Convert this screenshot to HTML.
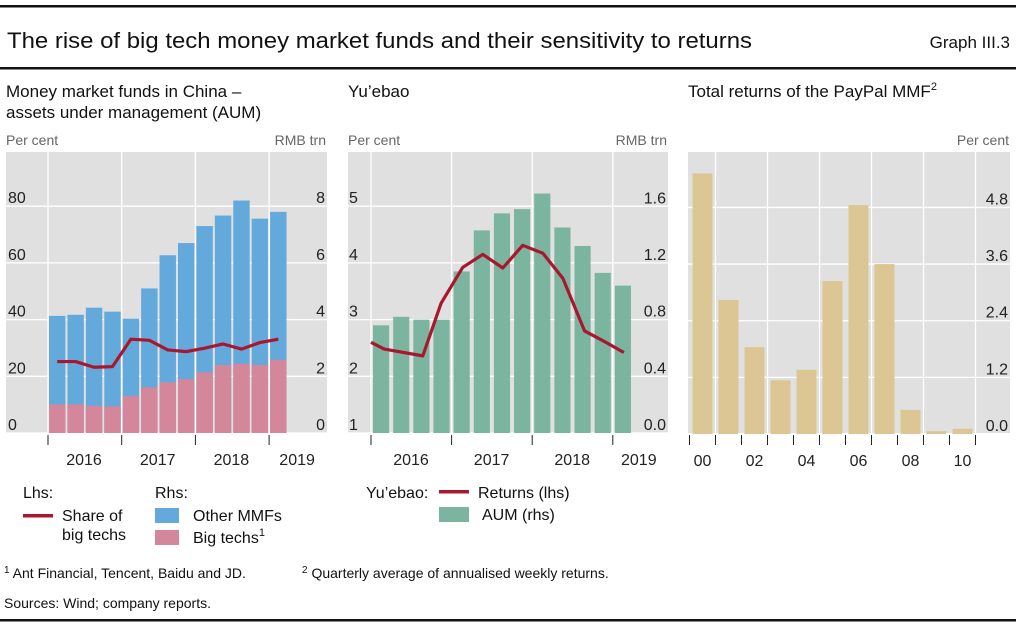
<!DOCTYPE html>
<html><head><meta charset="utf-8"><style>
html,body{margin:0;padding:0;background:#fff;}
svg{display:block;font-family:"Liberation Sans",sans-serif;}
</style></head><body>
<svg id="chart" width="1016" height="628" viewBox="0 0 1016 628" xmlns="http://www.w3.org/2000/svg">
<rect x="0" y="5" width="1016" height="2.5" fill="#111"/>
<text x="7" y="48" font-size="22" fill="#111" textLength="745" lengthAdjust="spacingAndGlyphs">The rise of big tech money market funds and their sensitivity to returns</text>
<text x="1010" y="48" font-size="17" fill="#111" text-anchor="end">Graph III.3</text>
<rect x="0" y="67" width="1016" height="2.5" fill="#111"/>
<text x="6" y="97" font-size="17" fill="#111">Money market funds in China –</text>
<text x="6" y="118" font-size="17" fill="#111">assets under management (AUM)</text>
<text x="348" y="97" font-size="17" fill="#111">Yu’ebao</text>
<text x="688" y="97" font-size="17" fill="#111">Total returns of the PayPal MMF<tspan font-size="11" dy="-7">2</tspan></text>
<text x="6" y="145" font-size="14" fill="#666">Per cent</text>
<text x="326" y="145" font-size="14" fill="#666" text-anchor="end">RMB trn</text>
<text x="348" y="145" font-size="14" fill="#666">Per cent</text>
<text x="667" y="145" font-size="14" fill="#666" text-anchor="end">RMB trn</text>
<text x="1009" y="145" font-size="14" fill="#666" text-anchor="end">Per cent</text>
<g id="p1"></g><g id="p2"></g><g id="p3"></g>
<g>
<text x="23" y="498" font-size="16" fill="#111">Lhs:</text>
<text x="155" y="498" font-size="16" fill="#111">Rhs:</text>
<rect x="23" y="514" width="30" height="3.5" fill="#a8172d"/>
<text x="62" y="521" font-size="16" fill="#111">Share of</text>
<text x="62" y="540" font-size="16" fill="#111">big techs</text>
<rect x="155" y="508" width="24" height="15" fill="#64a9dc"/>
<text x="193" y="521" font-size="16" fill="#111">Other MMFs</text>
<rect x="155" y="530" width="24" height="15" fill="#d4879a"/>
<text x="193" y="543" font-size="16" fill="#111">Big techs<tspan font-size="11" dy="-7">1</tspan></text>
</g>
<g>
<text x="366" y="498" font-size="16" fill="#111">Yu’ebao:</text>
<rect x="439" y="490" width="30" height="3.5" fill="#a8172d"/>
<text x="478" y="498" font-size="16" fill="#111">Returns (lhs)</text>
<rect x="439" y="507" width="30" height="15" fill="#7bb5a0"/>
<text x="482" y="520" font-size="16" fill="#111">AUM (rhs)</text>
</g>
<text x="4" y="578" font-size="14" fill="#111"><tspan font-size="10" dy="-5">1</tspan><tspan dy="5"> Ant Financial, Tencent, Baidu and JD.</tspan></text>
<text x="302" y="578" font-size="14" fill="#111"><tspan font-size="10" dy="-5">2</tspan><tspan dy="5"> Quarterly average of annualised weekly returns.</tspan></text>
<text x="4" y="608" font-size="14" fill="#111">Sources: Wind; company reports.</text>
<rect x="0" y="619" width="1016" height="2.5" fill="#111"/>
</svg>
<script>
const p1Years = ["2016","2017","2018","2019"];
const p1Other = [4.13,4.17,4.42,4.28,4.03,5.10,6.27,6.70,7.30,7.67,8.20,7.56,7.80];
const p1BigTech = [1.01,1.01,0.96,0.94,1.30,1.61,1.79,1.90,2.14,2.40,2.44,2.40,2.58];
const p1Share = [25.2,25.2,23.2,23.4,33.1,32.7,29.3,28.7,29.9,31.4,29.6,31.9,33.1];
const p1LhsTicks = [0,20,40,60,80];
const p1RhsTicks = [0,2,4,6,8];
const p2Years = ["2016","2017","2018","2019"];
const p2Aum = [0.76,0.82,0.80,0.80,1.14,1.43,1.55,1.58,1.69,1.45,1.32,1.13,1.04];
const p2RetT = [0,0.66,2.57,3.48,4.55,5.55,6.54,7.53,8.53,9.52,10.6,11.6,12.55];
const p2Ret = [2.60,2.48,2.36,3.29,3.92,4.15,3.91,4.31,4.17,3.73,2.80,2.61,2.42];
const p2LhsTicks = [1,2,3,4,5];
const p2RhsTicks = ["0.0","0.4","0.8","1.2","1.6"];
const p3Years = ["00","01","02","03","04","05","06","07","08","09","10"];
const p3Ret = [5.52,2.84,1.84,1.14,1.36,3.24,4.85,3.60,0.51,0.06,0.11];
const p3Ticks = ["0.0","1.2","2.4","3.6","4.8"];

const NS="http://www.w3.org/2000/svg";
function mk(parent,tag,attrs,txt){const e=document.createElementNS(NS,tag);for(const k in attrs)e.setAttribute(k,attrs[k]);if(txt!==undefined)e.textContent=txt;parent.appendChild(e);return e;}
const GRID="#e0e0e0", TXT="#222";
const TOP=152, BOT=433;

(function(){
 const g=document.getElementById('p1');
 const L=6,R=327,x0=48,yw=73.7,qw=yw/4;
 const yl=v=>BOT-v*2.835, yr=v=>BOT-v*28.35, xq=q=>x0+q*qw;
 const bg=mk(g,'rect',{x:L,y:TOP,width:R-L,height:BOT-TOP,fill:GRID});
 
 
 p1LhsTicks.forEach(t=>{const l=mk(g,'line',{x1:L,x2:R,y1:yl(t),y2:yl(t),stroke:'#fff','stroke-width':1.3});
  
  });
 p1Years.forEach((yy,i)=>{const x=xq(i*4);
  const l=mk(g,'line',{x1:x,x2:x,y1:TOP,y2:BOT,stroke:'#fff','stroke-width':1.3});
  
  
  const tk=mk(g,'line',{x1:x,x2:x,y1:BOT+2,y2:BOT+12,stroke:'#222','stroke-width':1});
  
  
  const cx=i<p1Years.length-1?x+36:x+28;
  const t=mk(g,'text',{x:cx,y:465,'font-size':16,fill:TXT,'text-anchor':'middle'},yy);
  
  });
 p1Other.forEach((v,i)=>{const x=xq(i)+1;
  const b=mk(g,'rect',{x:x,y:yr(v),width:qw-2,height:BOT-yr(v),fill:'#64a9dc'});
  
  
  const p=mk(g,'rect',{x:x,y:yr(p1BigTech[i]),width:qw-2,height:BOT-yr(p1BigTech[i]),fill:'#d4879a'});
  
  });
 const pts=p1Share.map((v,i)=>(xq(i)+qw/2)+','+yl(v)).join(' ');
 const ln=mk(g,'polyline',{points:pts,fill:'none',stroke:'#a8172d','stroke-width':3.2,'stroke-linejoin':'round'});
 
 
 p1LhsTicks.forEach(t=>{const e=mk(g,'text',{x:8,y:yl(t)-3,'font-size':16,fill:TXT},t);
  
  });
 p1RhsTicks.forEach(t=>{const e=mk(g,'text',{x:R-2,y:yr(t)-3,'font-size':16,fill:TXT,'text-anchor':'end'},t);
  
  });
})();

(function(){
 const g=document.getElementById('p2');
 const L=348,R=668,x0=371,yw=80.6,qw=yw/4;
 const yl=v=>BOT-(v-1)*56.7, yr=v=>BOT-v*141.7, xq=q=>x0+q*qw;
 const bg=mk(g,'rect',{x:L,y:TOP,width:R-L,height:BOT-TOP,fill:GRID});
 
 
 p2LhsTicks.forEach(t=>{const l=mk(g,'line',{x1:L,x2:R,y1:yl(t),y2:yl(t),stroke:'#fff','stroke-width':1.3});
  
  });
 p2Years.forEach((yy,i)=>{const x=xq(i*4);
  const l=mk(g,'line',{x1:x,x2:x,y1:TOP,y2:BOT,stroke:'#fff','stroke-width':1.3});
  
  
  const tk=mk(g,'line',{x1:x,x2:x,y1:BOT+2,y2:BOT+12,stroke:'#222','stroke-width':1});
  
  
  const cx=i<p2Years.length-1?x+40:x+26;
  const t=mk(g,'text',{x:cx,y:465,'font-size':16,fill:TXT,'text-anchor':'middle'},yy);
  
  });
 p2Aum.forEach((v,i)=>{const b=mk(g,'rect',{x:xq(i)+2,y:yr(v),width:qw-4,height:BOT-yr(v),fill:'#7bb5a0'});
  
  });
 const pts=p2Ret.map((v,i)=>xq(p2RetT[i])+','+yl(v)).join(' ');
 const ln=mk(g,'polyline',{points:pts,fill:'none',stroke:'#a8172d','stroke-width':3.2,'stroke-linejoin':'round'});
 
 
 p2LhsTicks.forEach(t=>{const e=mk(g,'text',{x:349,y:yl(t)-3,'font-size':16,fill:TXT},t);
  
  });
 p2RhsTicks.forEach(t=>{const e=mk(g,'text',{x:R-2,y:yr(parseFloat(t))-3,'font-size':16,fill:TXT,'text-anchor':'end'},t);
  
  });
})();

(function(){
 const g=document.getElementById('p3');
 const L=688,R=1010,x0=689.5,bw=26,b3=434;
 const ys=v=>b3-v*47.2, xb=i=>x0+i*bw;
 const bg=mk(g,'rect',{x:L,y:TOP,width:R-L,height:BOT-TOP,fill:GRID});
 
 
 p3Ticks.forEach(t=>{const l=mk(g,'line',{x1:L,x2:R,y1:ys(parseFloat(t)),y2:ys(parseFloat(t)),stroke:'#fff','stroke-width':1.3});
  
  });
 for(let i=1;i<=p3Years.length;i+=2){const x=xb(i);
  const l=mk(g,'line',{x1:x,x2:x,y1:TOP,y2:BOT,stroke:'#fff','stroke-width':1.3});
  
  }
 for(let i=0;i<=p3Years.length;i++){const x=xb(i);
  const tk=mk(g,'line',{x1:x,x2:x,y1:BOT+2,y2:BOT+12,stroke:'#222','stroke-width':1});
  
  }
 p3Ret.forEach((v,i)=>{const b=mk(g,'rect',{x:xb(i)+3,y:ys(v),width:bw-6,height:b3-ys(v),fill:'#dcc794'});
  
  });
 p3Years.forEach((yy,i)=>{if(i%2)return;
  const t=mk(g,'text',{x:xb(i)+bw/2,y:466,'font-size':16,fill:TXT,'text-anchor':'middle'},yy);
  
  });
 p3Ticks.forEach(t=>{const e=mk(g,'text',{x:R-2,y:ys(parseFloat(t))-3,'font-size':16,fill:TXT,'text-anchor':'end'},t);
  
  });
})();
</script>
</body></html>
